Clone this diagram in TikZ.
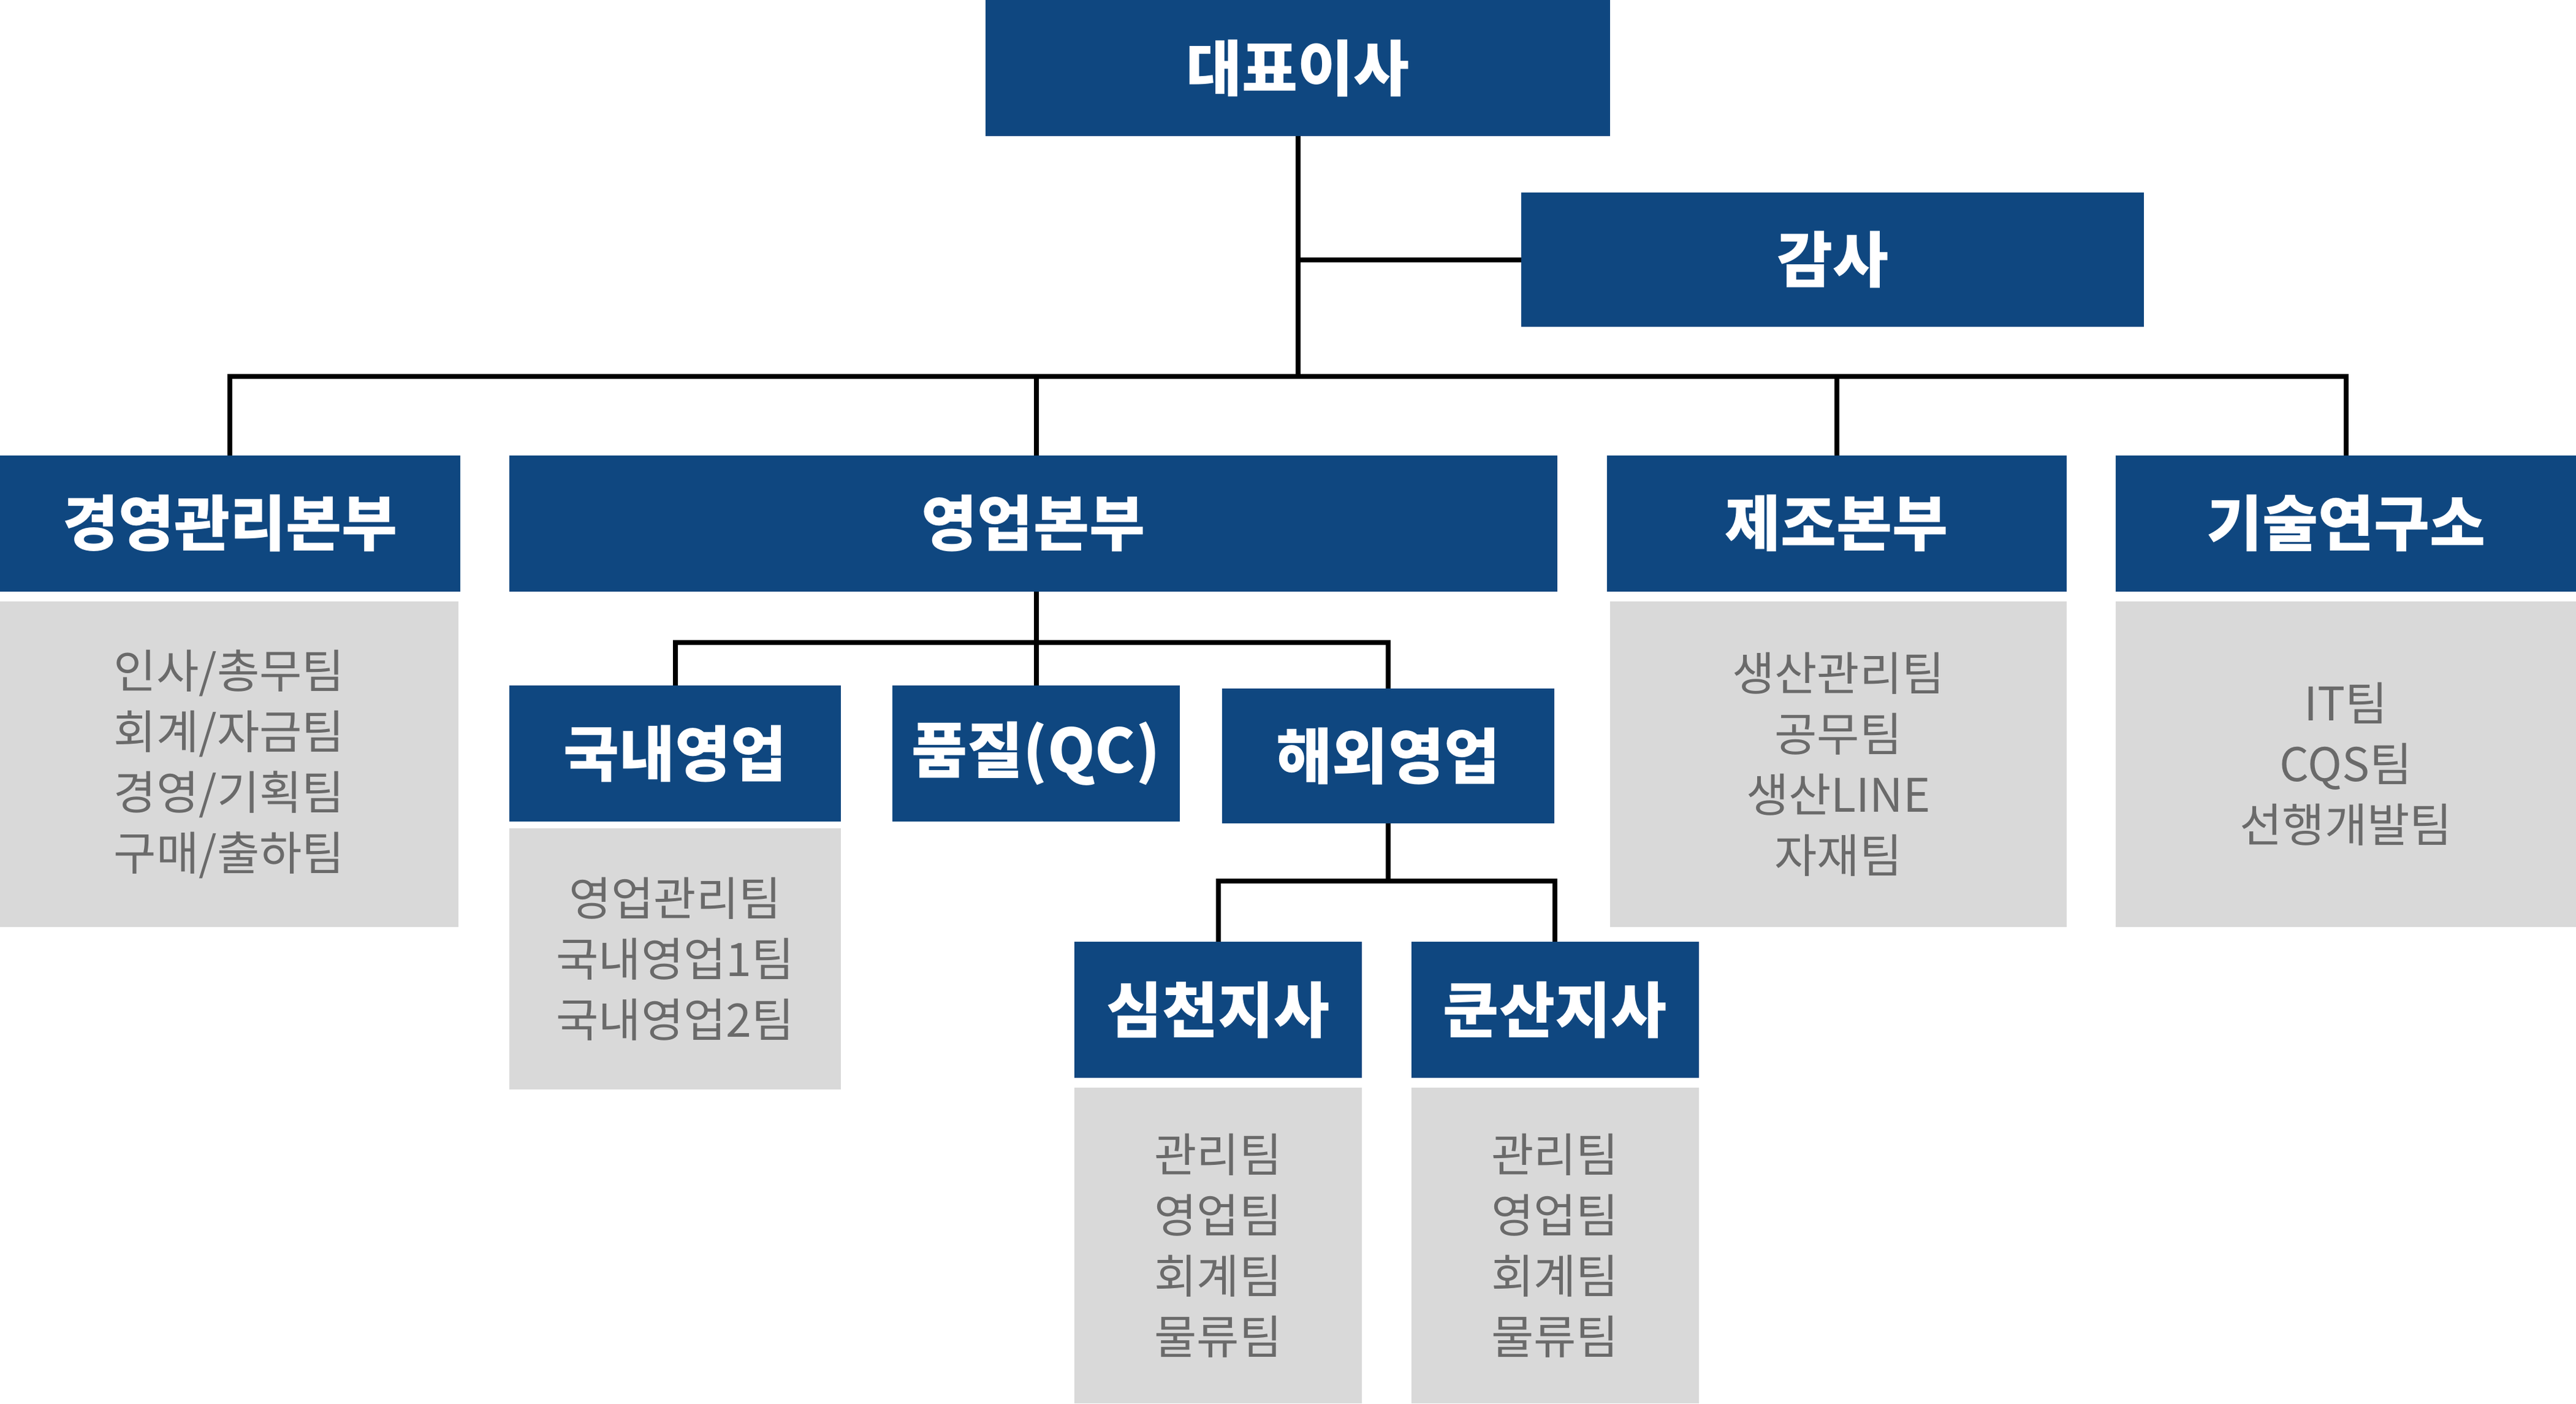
\documentclass[tikz,border=0pt]{standalone}
\usepackage{fontspec}
\setmainfont{Noto Sans CJK KR}
\newfontfamily\boldkr{Noto Sans CJK KR Bold}
\definecolor{orgblue}{HTML}{0F4780}
\definecolor{orggray}{HTML}{D9D9D9}
\definecolor{orgtext}{HTML}{6A6A6A}
\tikzset{
  bluebox/.style={fill=orgblue,text=white,inner sep=0pt,outer sep=0pt,font=\fontsize{10.5}{12}\selectfont\bfseries},
  graybox/.style={fill=orggray,text=orgtext,inner sep=0pt,outer sep=0pt,align=center,font=\fontsize{8}{10.5}\selectfont},
  conn/.style={line width=0.85pt,black}
}
\newcommand{\bx}[7]{\node[#7,minimum width={(#4-#2)*0.01cm},minimum height={(#5-#3)*0.01cm}] (#1) at ({(#2+#4)/2},{(#3+#5)/2}) {#6};}
\begin{document}
\begin{tikzpicture}[x={(0.01cm,0)},y={(0,-0.01cm)}]
\useasboundingbox[fill=white] (0,0) rectangle (1568,854);
\bx{ceo}{600}{0}{980}{83}{대표이사}{bluebox}
\bx{gam}{926}{117}{1305}{199}{감사}{bluebox}
\bx{d1}{0}{277}{280}{360}{경영관리본부}{bluebox}
\bx{d2}{310}{277}{948}{360}{영업본부}{bluebox}
\bx{d3}{978}{277}{1258}{360}{제조본부}{bluebox}
\bx{d4}{1288}{277}{1568}{360}{기술연구소}{bluebox}
\bx{g1}{0}{366}{279}{564}{인사/총무팀\\회계/자금팀\\경영/기획팀\\구매/출하팀}{graybox}
\bx{g3}{980}{366}{1258}{564}{생산관리팀\\공무팀\\생산LINE\\자재팀}{graybox}
\bx{g4}{1288}{366}{1568}{564}{IT팀\\CQS팀\\선행개발팀}{graybox}
\bx{s1}{310}{417}{512}{500}{국내영업}{bluebox}
\bx{s2}{543}{417}{718}{500}{품질(QC)}{bluebox}
\bx{s3}{744}{419}{946}{501}{해외영업}{bluebox}
\bx{gs1}{310}{504}{512}{663}{영업관리팀\\국내영업1팀\\국내영업2팀}{graybox}
\bx{b1}{654}{573}{829}{656}{심천지사}{bluebox}
\bx{b2}{859}{573}{1034}{656}{쿤산지사}{bluebox}
\bx{gb1}{654}{662}{829}{854}{관리팀\\영업팀\\회계팀\\물류팀}{graybox}
\bx{gb2}{859}{662}{1034}{854}{관리팀\\영업팀\\회계팀\\물류팀}{graybox}
\coordinate (bus) at (790,229);
\coordinate (bus2) at (631,391);
\coordinate (bus3) at (845,536);
\draw[conn] (ceo.south) -- (bus);
\draw[conn] (ceo.south |- gam.west) -- (gam.west);
\draw[conn] (d1.north) |- (d4.north |- bus) -- (d4.north);
\draw[conn] (d2.north -| bus2) -- (bus2 |- bus);
\draw[conn] (d3.north) -- (d3.north |- bus);
\draw[conn] (bus2 |- d2.south) -- (bus2);
\draw[conn] (s1.north) |- (s3.north |- bus2) -- (s3.north);
\draw[conn] (s2.north -| bus2) -- (bus2);
\draw[conn] (bus3 |- s3.south) -- (bus3);
\draw[conn] (b1.north) |- (b2.north |- bus3) -- (b2.north);
\end{tikzpicture}
\end{document}
